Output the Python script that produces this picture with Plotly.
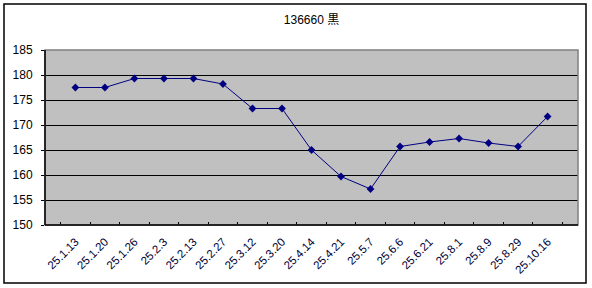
import plotly.graph_objects as go

categories = ["25.1.13", "25.1.20", "25.1.26", "25.2.3", "25.2.13", "25.2.27", "25.3.12", "25.3.20",
              "25.4.14", "25.4.21", "25.5.7", "25.6.6", "25.6.21", "25.8.1", "25.8.9", "25.8.29", "25.10.16"]
values = [177.5, 177.5, 179.3, 179.3, 179.3, 178.2, 173.3, 173.3,
          165.0, 159.7, 157.2, 165.7, 166.6, 167.3, 166.4, 165.7, 171.7]
y_ticks = [150, 155, 160, 165, 170, 175, 180, 185]
title_text = "136660 黒"

W, H = 592, 288
L, R, T, B = 45, 14, 50, 63
pw, ph = W - L - R, H - T - B

def px(x):
    return (x - L) / pw

def py(y):
    return (H - B - y) / ph

fig = go.Figure()
fig.add_trace(go.Scatter(
    x=categories, y=values, mode="lines+markers",
    line=dict(color="#000080", width=1),
    marker=dict(symbol="diamond", size=6, color="#000080"),
    hoverinfo="x+y", showlegend=False,
))

font_family = "Liberation Sans, Noto Sans CJK JP, sans-serif"

fig.update_layout(
    width=W, height=H,
    margin=dict(l=L, r=R, t=T, b=B, autoexpand=False),
    paper_bgcolor="white",
    plot_bgcolor="#C0C0C0",
    font=dict(family=font_family, size=11, color="black"),
    title=dict(text=title_text, x=0.5, xref="paper", xanchor="center",
               y=1 - 20 / H, yref="container", yanchor="middle",
               font=dict(size=12, color="black", family=font_family)),
    xaxis=dict(
        type="category", showgrid=False, ticks="inside", ticklen=3, tickcolor="black",
        tickson="boundaries", tickangle=-45, ticklabelstandoff=7, automargin=False,
        tickfont=dict(size=11.5, color="#000033"),
        showline=False, zeroline=False, fixedrange=True,
    ),
    yaxis=dict(
        range=[150, 185], tickvals=y_ticks, showgrid=True, gridcolor="black", gridwidth=1,
        ticks="outside", ticklen=3, tickcolor="black", tickfont=dict(size=12),
        ticklabelstandoff=6, automargin=False,
        showline=False, zeroline=False, fixedrange=True,
    ),
    shapes=[
        dict(type="rect", xref="paper", yref="paper",
             x0=px(4), x1=px(586), y0=py(283), y1=py(4),
             line=dict(color="black", width=1.5), layer="above"),
        dict(type="rect", xref="paper", yref="paper", x0=0, x1=1, y0=0, y1=1,
             line=dict(color="#808080", width=1.5), layer="above"),
        dict(type="line", xref="paper", yref="paper", x0=0, x1=0, y0=0, y1=1,
             line=dict(color="black", width=1.5), layer="above"),
        dict(type="line", xref="paper", yref="paper", x0=0, x1=1, y0=0, y1=0,
             line=dict(color="black", width=1.5), layer="above"),
    ],
)

fig.write_html("out.html")
